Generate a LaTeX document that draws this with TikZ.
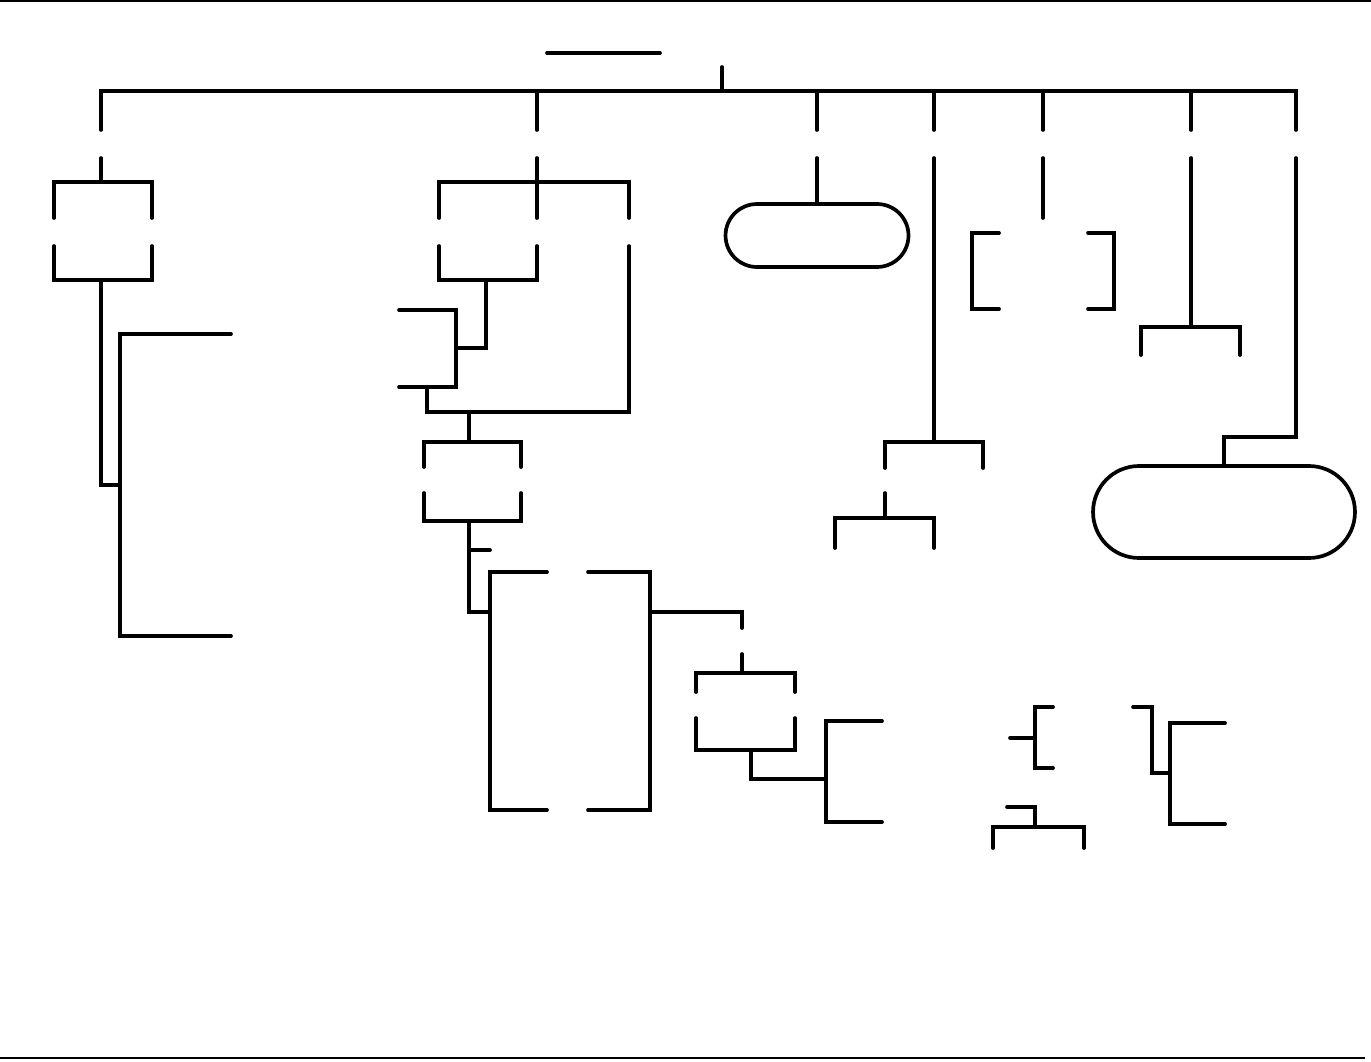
\documentclass[tikz,border=0pt]{standalone}
\usetikzlibrary{positioning,shapes.misc}
\tikzset{
  wire/.style={line width=2.1pt, line cap=round},
  rule/.style={line width=0.9pt},
  pill/.style={draw, rounded rectangle, line width=2.1pt, inner sep=0pt}
}

\begin{document}
\begin{tikzpicture}[x=0.02cm,y=-0.02cm]
\useasboundingbox (0,0) rectangle (1371,1061);
% page rules
\draw[rule] (0,1) -- (1371,1);
\draw[rule] (0,1058) -- (1365,1058);

% root and bus
\draw[wire] (547,53) -- (660,53);
\draw[wire] (722,67) -- (722,91);
\draw[wire] (101,130) |- (1296,91) -- (1296,130);
\foreach \x in {537,817,934,1043,1191}
  \draw[wire] (\x,91) -- (\x,130);

% left branch
\draw[wire] (101,158) -- (101,182);
\draw[wire] (54,218) |- (152,182) -- (152,218);
\draw[wire] (54,246) |- (152,280) -- (152,246);
\draw[wire] (101,280) |- (120,485);
\draw[wire] (231,334) -| (120,636) -- (231,636);

% second branch
\draw[wire] (537,158) -- (537,218);
\draw[wire] (439,218) |- (629,182) -- (629,218);
\draw[wire] (439,246) |- (537,280) -- (537,246);
\draw[wire] (486,280) |- (456,348);
\draw[wire] (399,310) -| (456,387) -- (399,387);
\draw[wire] (427,387) |- (629,412) -- (629,246);
\draw[wire] (469,412) -- (469,442);
\draw[wire] (424,467) |- (521,442) -- (521,467);
\draw[wire] (424,493) |- (521,521) -- (521,493);
\draw[wire] (469,521) |- (490,612);
\draw[wire] (469,550) -- (490,550);
\draw[wire] (547,572) -| (490,810) -- (547,810);
\draw[wire] (588,572) -| (650,810) -- (588,810);
\draw[wire] (650,612) -| (742,628);
\draw[wire] (742,654) -- (742,673);
\draw[wire] (696,692) |- (795,673) -- (795,692);
\draw[wire] (696,718) |- (795,750) -- (795,718);
\draw[wire] (751,750) |- (826,779);
\draw[wire] (882,721) -| (826,822) -- (882,822);

% dome
\node[pill, minimum width=3.66cm, minimum height=1.26cm] (dome) at (817,235.5) {};
\draw[wire] (817,158) -- (dome.north);

% fourth branch
\draw[wire] (934,158) -- (934,442);
\draw[wire] (885,468) |- (983,442) -- (983,468);
\draw[wire] (885,493) -- (885,518);
\draw[wire] (835,548) |- (934,518) -- (934,548);

% fifth branch
\draw[wire] (1043,158) -- (1043,218);
\draw[wire] (999,233) -| (972,309) -- (999,309);
\draw[wire] (1088,233) -| (1114,309) -- (1088,309);

% sixth branch
\draw[wire] (1191,158) -- (1191,327);
\draw[wire] (1141,355) |- (1240,327) -- (1240,355);

% tank
\node[pill, minimum width=5.24cm, minimum height=1.84cm] (tank) at (1224,512) {};
\draw[wire] (1296,158) |- (1224,437) -- (tank.north);

% loose brackets
\draw[wire] (1053,707) -| (1035,768) -- (1053,768);
\draw[wire] (1010,738) -- (1035,738);
\draw[wire] (1007,807) -| (1035,827);
\draw[wire] (993,848) |- (1084,827) -- (1084,848);
\draw[wire] (1133,707) -| (1152,773) -- (1170,773);
\draw[wire] (1225,723) -| (1170,824) -- (1225,824);
\end{tikzpicture}
\end{document}
